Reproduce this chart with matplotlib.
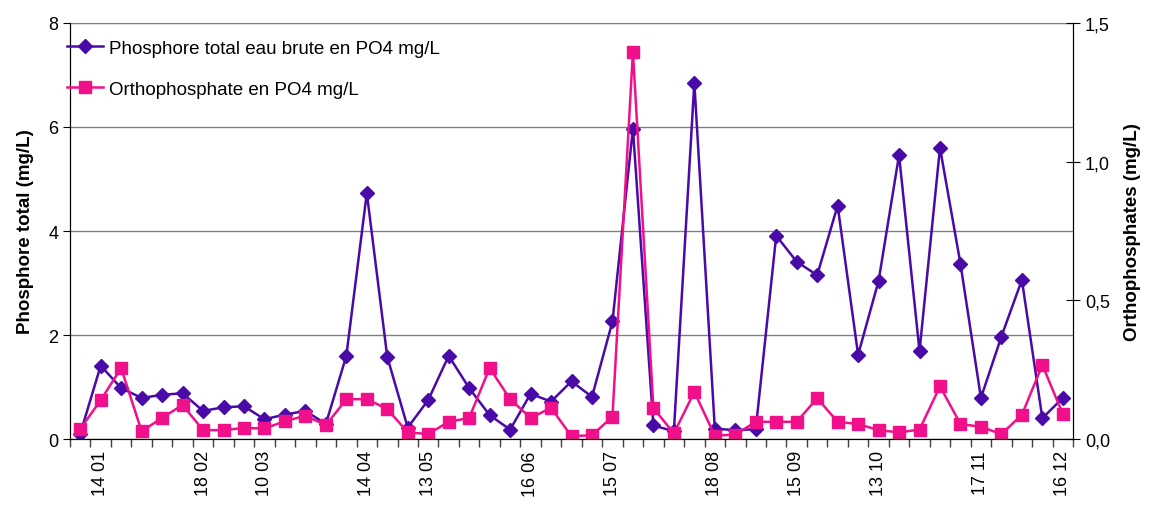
import matplotlib as mpl
import matplotlib.pyplot as plt
import matplotlib.ticker as ticker

mpl.rcParams['font.family'] = ['Liberation Sans', 'DejaVu Sans']

# total phosphorus (left axis, mg/L) - one value per sample
p_total = [0.10, 1.41, 0.98, 0.79, 0.85, 0.88, 0.54, 0.61, 0.63, 0.38,
           0.47, 0.54, 0.29, 1.60, 4.73, 1.58, 0.22, 0.75, 1.60, 0.98,
           0.46, 0.18, 0.87, 0.72, 1.11, 0.81, 2.26, 5.97, 0.26, 0.15,
           6.85, 0.20, 0.17, 0.19, 3.91, 3.41, 3.15, 4.49, 1.62, 3.04,
           5.46, 1.69, 5.60, 3.37, 0.79, 1.97, 3.06, 0.40, 0.79]
# orthophosphate (right axis, mg/L)
ortho = [0.036, 0.140, 0.256, 0.028, 0.076, 0.123, 0.032, 0.032, 0.040, 0.038,
         0.064, 0.084, 0.050, 0.143, 0.144, 0.108, 0.024, 0.018, 0.062, 0.076,
         0.256, 0.144, 0.076, 0.112, 0.010, 0.014, 0.080, 1.397, 0.112, 0.020,
         0.170, 0.012, 0.016, 0.062, 0.062, 0.062, 0.147, 0.062, 0.054, 0.032,
         0.024, 0.034, 0.190, 0.054, 0.044, 0.018, 0.087, 0.267, 0.090]
# dates shown under the axis (sample index -> label)
label_idx = [1, 6, 9, 14, 17, 22, 26, 31, 35, 39, 44, 48]
label_txt = ["14 01", "18 02", "10 03", "14 04", "13 05", "16 06",
             "15 07", "18 08", "15 09", "13 10", "17 11", "16 12"]

purple = "#4A0AA8"
pink = "#F0108A"

dpi = 100
fig = plt.figure(dpi=dpi, figsize=(1149/dpi, 506/dpi))
ax = fig.add_axes([0.0609, 0.1304, 0.873, 0.8222])
ax2 = ax.twinx()

x = list(range(len(p_total)))
l1, = ax.plot(x, p_total, color=purple, lw=1.8, marker="D", ms=7,
              label="Phosphore total eau brute en PO4 mg/L")
l2, = ax2.plot(x, ortho, color=pink, lw=1.8, marker="s", ms=8.5,
               label="Orthophosphate en PO4 mg/L")

ax.set_xlim(-0.5, len(x) - 0.5)
ax.set_ylim(0, 8)
ax2.set_ylim(0, 1.5)

ax.yaxis.set_major_locator(ticker.MultipleLocator(2))
ax.grid(axis="y", color="#808080", lw=1)
ax.set_axisbelow(True)
ax2.yaxis.set_major_locator(ticker.MultipleLocator(0.5))
ax2.yaxis.set_major_formatter(
    ticker.FuncFormatter(lambda v, p: ("%.1f" % v).replace(".", ",")))

ax.set_xticks(label_idx)
ax.set_xticklabels(label_txt, rotation=90, fontsize=13)
ax.xaxis.set_minor_locator(ticker.FixedLocator([i - 0.5 for i in range(len(x) + 1)]))
ax.tick_params(axis="x", which="major", length=0, pad=8)
ax.tick_params(axis="x", which="minor", length=6, width=1, color="#404040")
ax.tick_params(axis="y", labelsize=13, length=5)
ax2.tick_params(axis="y", labelsize=13, length=10, direction="inout")

ax.set_ylabel("Phosphore total (mg/L)", fontsize=13.5, fontweight="bold", labelpad=10)
ax2.set_ylabel("Orthophosphates (mg/L)", fontsize=13.5, fontweight="bold", labelpad=10)

for a in (ax, ax2):
    a.spines["top"].set_color("#808080")
ax2.spines["top"].set_visible(False)

ax2.legend([l1, l2], [l1.get_label(), l2.get_label()], loc="upper left",
           bbox_to_anchor=(-0.02, 1.0), frameon=False, fontsize=13.5,
           handlelength=1.95, handletextpad=0.3, labelspacing=1.25)

fig.savefig("out.png")
